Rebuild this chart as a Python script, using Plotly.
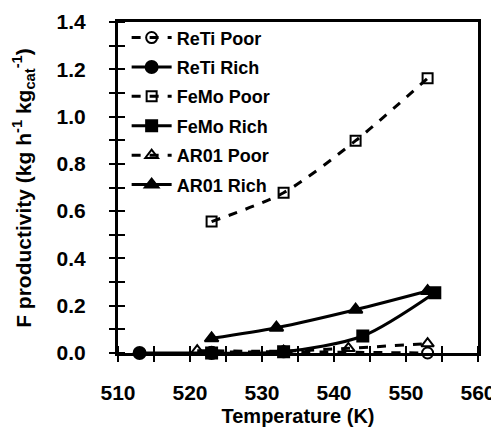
import plotly.graph_objects as go

# Data
reti_poor_x = [523, 533, 553]
reti_poor_y = [0.003, 0.005, 0.0]
reti_rich_x = [513, 523]
reti_rich_y = [0.0, 0.0]
femo_poor_x = [523, 533, 543, 553]
femo_poor_y = [0.556, 0.678, 0.898, 1.162]
femo_rich_x = [523, 533, 544, 554]
femo_rich_y = [0.0, 0.005, 0.072, 0.255]
ar01_poor_x = [521, 533, 542, 553]
ar01_poor_y = [0.01, 0.008, 0.02, 0.04]
ar01_rich_x = [523, 532, 543, 553]
ar01_rich_y = [0.062, 0.107, 0.183, 0.262]

x_ticks = [510, 520, 530, 540, 550, 560]
y_ticks = [0.0, 0.2, 0.4, 0.6, 0.8, 1.0, 1.2, 1.4]

FONT = "Liberation Sans, Arial, sans-serif"
BLACK = "black"

series = [
    ("ReTi Poor", reti_poor_x, reti_poor_y, "dash", "circle-open", 11),
    ("ReTi Rich", reti_rich_x, reti_rich_y, "solid", "circle", 12),
    ("FeMo Poor", femo_poor_x, femo_poor_y, "dash", "square-open", 10),
    ("FeMo Rich", femo_rich_x, femo_rich_y, "solid", "square", 11),
    ("AR01 Poor", ar01_poor_x, ar01_poor_y, "dash", "triangle-up-open", 11),
    ("AR01 Rich", ar01_rich_x, ar01_rich_y, "solid", "triangle-up", 12),
]

fig = go.Figure()
for i, (name, xs, ys, dash, sym, size) in enumerate(series):
    fig.add_trace(go.Scatter(
        x=xs, y=ys, name=name, mode="lines+markers",
        line=dict(color=BLACK, width=3, dash=dash, shape="spline", smoothing=0.8),
        marker=dict(symbol=sym, size=size, color=BLACK,
                    line=dict(color=BLACK, width=2)),
        cliponaxis=False, legendgroup=f"g{i}",
    ))

# tick positions (every 5 K and every 0.1)
x_all = [510 + 5 * k for k in range(11)]
y_all = [round(0.1 * k, 1) for k in range(15)]
EPS_X = 1e-6
EPS_Y = 1e-9

def xlabels(v):
    return str(v) if v in x_ticks else " "

def ylabels(v):
    return f"{v:.1f}" if any(abs(v - t) < 1e-9 for t in y_ticks) else " "

# the page body has an 8 px default margin; size the figure to fit the window
fig.update_layout(
    width=491, height=419,
    margin=dict(l=110, r=21, t=14, b=74, autoexpand=False),
    paper_bgcolor="white", plot_bgcolor="white",
    font=dict(family=FONT, color=BLACK),
    showlegend=True,
    legend=dict(x=0.024, y=1.008, xanchor="left", yanchor="top",
                bgcolor="rgba(0,0,0,0)", borderwidth=0,
                font=dict(family=FONT, size=18, color=BLACK, weight="bold"),
                itemwidth=40, tracegroupgap=3),
    xaxis=dict(
        range=[510, 560], showgrid=False, zeroline=False, automargin=False,
        showline=True, linecolor=BLACK, linewidth=3, mirror=True,
        tickvals=x_all, ticktext=[xlabels(v) for v in x_all],
        ticks="outside", ticklen=6, tickwidth=2, tickcolor=BLACK,
        ticklabelstandoff=13,
        tickfont=dict(family=FONT, size=21, color=BLACK, weight="bold"),
        minor=dict(tickmode="array", tickvals=[v + EPS_X for v in x_all],
                   ticks="inside", ticklen=7, tickwidth=2, tickcolor=BLACK),
        title=dict(text="<b>Temperature (K)</b>", standoff=10,
                   font=dict(family=FONT, size=20, color=BLACK)),
    ),
    yaxis=dict(
        range=[0, 1.4], showgrid=False, zeroline=False, automargin=False,
        showline=True, linecolor=BLACK, linewidth=3, mirror=True,
        tickvals=y_all, ticktext=[ylabels(v) for v in y_all],
        ticks="outside", ticklen=6, tickwidth=2, tickcolor=BLACK,
        ticklabelstandoff=19,
        tickfont=dict(family=FONT, size=21, color=BLACK, weight="bold"),
        minor=dict(tickmode="array", tickvals=[v + EPS_Y for v in y_all],
                   ticks="inside", ticklen=7, tickwidth=2, tickcolor=BLACK),
    ),
    annotations=[dict(
        text="<b>F productivity (kg h<sup>-1</sup> kg<sub>cat</sub><sup>-1</sup>)</b>",
        xref="paper", yref="paper", x=-0.263, y=0.5, textangle=-90,
        showarrow=False, xanchor="center", yanchor="middle",
        font=dict(family=FONT, size=21, color=BLACK),
    )],
)

fig.write_html("out.html")
